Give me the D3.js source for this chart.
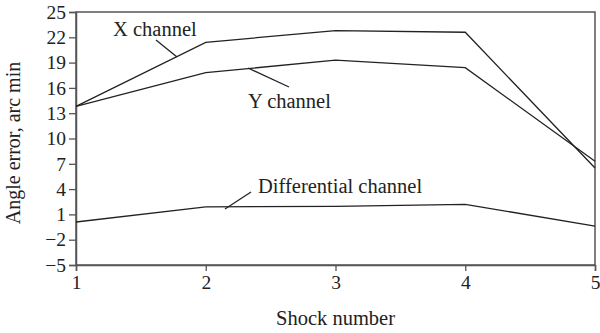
<!DOCTYPE html>
<html>
<head>
  <meta charset="utf-8">
  <script src="https://cdn.jsdelivr.net/npm/d3@7"></script>
  <style>
    body { margin: 0; background: #fff; }
    text { font-family: "Liberation Serif", "Times New Roman", serif; fill: #222; }
  </style>
</head>
<body>
<script>
  // shock index on x, angle error (arc min) on y
  var shocks = [1, 2, 3, 4, 5];
  var xChannel = [13.8, 21.4, 22.8, 22.6, 6.5];
  var yChannel = [13.8, 17.8, 19.3, 18.4, 7.3];
  var diffChannel = [0.1, 1.9, 1.95, 2.2, -0.4];
  var yTicks = [-5, -2, 1, 4, 7, 10, 13, 16, 19, 22, 25];

  var W = 600, H = 333;
  var m = {top: 12, right: 5, bottom: 68, left: 76};

  var svg = d3.select("body").append("svg")
    .attr("width", W).attr("height", H);

  var x = d3.scaleLinear().domain([1, 5]).range([m.left, W - m.right]);
  var y = d3.scaleLinear().domain([-5, 25]).range([H - m.bottom, m.top]);

  // frame
  svg.append("rect")
    .attr("x", m.left).attr("y", m.top)
    .attr("width", W - m.right - m.left).attr("height", H - m.bottom - m.top)
    .attr("fill", "none").attr("stroke", "#555").attr("stroke-width", 1.5);

  var xAxis = svg.append("g")
    .attr("transform", "translate(0," + (H - m.bottom) + ")")
    .call(d3.axisBottom(x).tickValues(shocks).tickFormat(d3.format("d")).tickSize(6).tickPadding(4));
  var yAxis = svg.append("g")
    .attr("transform", "translate(" + m.left + ",0)")
    .call(d3.axisLeft(y).tickValues(yTicks).tickSize(7).tickPadding(3));

  [xAxis, yAxis].forEach(function(g) {
    g.select(".domain").attr("stroke", "#555").attr("stroke-width", 1.5);
    g.selectAll(".tick line").attr("stroke", "#555").attr("stroke-width", 1.3);
    g.selectAll(".tick text").style("font-size", "19.5px").attr("fill", "#222")
      .style("font-family", "'Liberation Serif', serif");
  });

  var line = d3.line()
    .x(function(d, i) { return x(shocks[i]); })
    .y(function(d) { return y(d); });

  [xChannel, yChannel, diffChannel].forEach(function(s) {
    svg.append("path").datum(s)
      .attr("d", line)
      .attr("fill", "none").attr("stroke", "#222").attr("stroke-width", 1.3);
  });

  // labels with leader lines
  function label(txt, tx, ty, x1, y1, x2, y2) {
    svg.append("line")
      .attr("x1", x1).attr("y1", y1).attr("x2", x2).attr("y2", y2)
      .attr("stroke", "#222").attr("stroke-width", 1.3);
    svg.append("text").attr("x", tx).attr("y", ty)
      .style("font-size", "20.5px").text(txt);
  }
  label("X channel", 113, 36, 156, 40, 177, 57);
  label("Y channel", 248, 108, 248, 68, 289, 87);
  label("Differential channel", 258, 193, 225, 209, 251, 192);

  svg.append("text")
    .attr("x", x(3)).attr("y", 325)
    .attr("text-anchor", "middle")
    .style("font-size", "20.5px")
    .text("Shock number");

  svg.append("text")
    .attr("transform", "translate(20," + 143 + ") rotate(-90)")
    .attr("text-anchor", "middle")
    .style("font-size", "20px")
    .text("Angle error, arc min");
</script>
</body>
</html>
